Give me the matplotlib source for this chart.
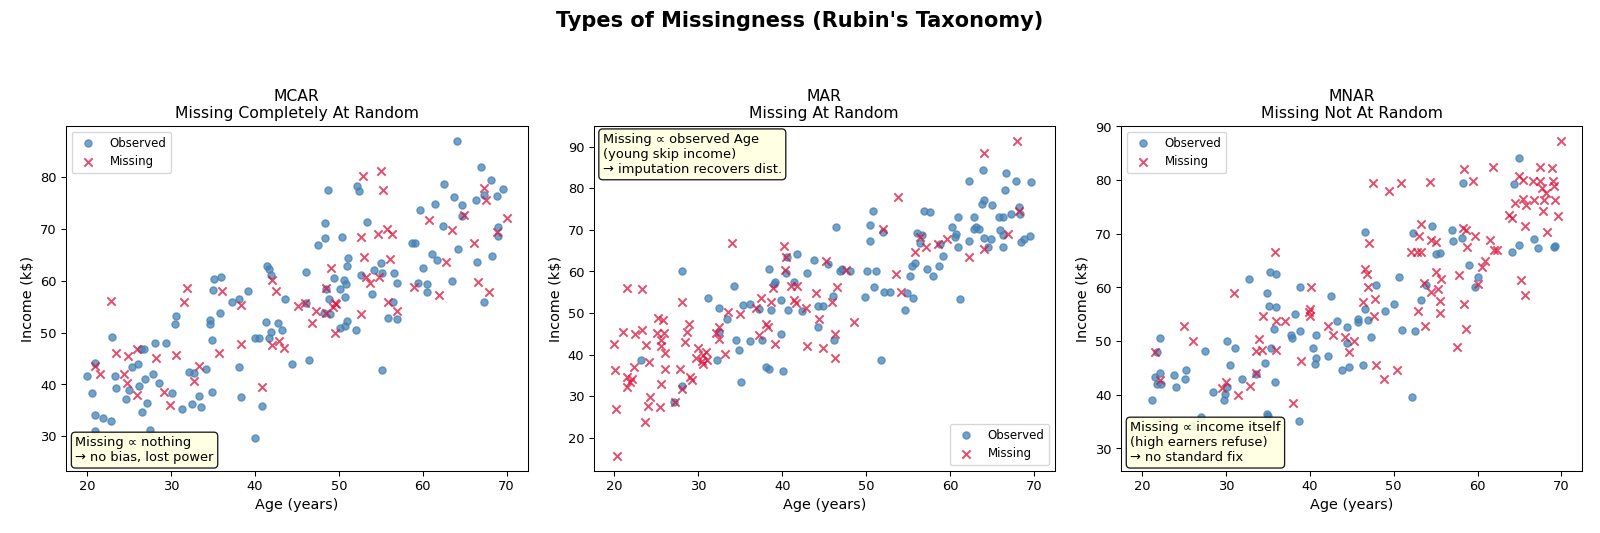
import matplotlib
matplotlib.use('Agg')
import matplotlib.pyplot as plt

# ---- MCAR ----
mcar_obs_age = [20.0, 20.6, 21.0, 21.0, 21.0, 21.9, 22.9, 23.0, 23.3, 23.5, 24.7, 25.0, 25.4, 26.1, 26.2, 26.4,
                26.8, 26.6, 26.9, 27.2, 27.5, 27.9, 28.1, 28.6, 29.4, 30.1, 30.5, 30.6, 31.3, 32.2, 32.5, 32.7,
                33.3, 33.6, 34.2, 34.6, 34.6, 34.9, 34.9, 35.0, 35.1, 35.8, 36.0, 37.3, 38.1, 38.1, 38.3, 39.2,
                40.0, 40.0, 40.5, 40.8, 41.3, 41.5, 41.7, 41.9, 41.9, 41.7, 42.8, 43.2, 43.6, 44.4,
                46.1, 46.5, 46.1, 47.5, 48.4, 48.4, 48.7, 48.5, 48.8, 48.3, 48.9, 49.4, 50.4, 50.2, 50.6, 50.9,
                50.8, 51.0, 51.1, 50.2, 50.8, 51.0, 52.0, 52.2, 52.4, 52.6, 53.4, 54.0, 54.2, 55.0, 55.1, 55.2,
                55.9, 56.5, 56.6, 57.0, 56.9, 58.7, 59.1, 59.7, 59.5, 60.0, 60.5, 60.5, 61.1, 61.5, 61.7, 62.4,
                62.5, 63.5, 63.7, 64.2, 64.1, 64.7, 64.7, 66.4, 66.5, 66.9, 67.3, 67.3, 68.2, 68.3, 68.9, 69.0,
                69.0, 69.6]
mcar_obs_inc = [41.7, 38.4, 44.2, 34.1, 31.0, 33.6, 32.9, 49.1, 41.7, 39.4, 37.2, 39.0, 43.4, 43.9, 39.8, 46.8,
                46.9, 34.7, 41.1, 36.4, 31.2, 42.1, 48.0, 40.2, 48.0, 38.4, 51.7, 53.3, 35.3, 42.4, 36.2, 42.3,
                37.7, 35.6, 42.9, 52.5, 51.7, 38.5, 48.6, 58.3, 60.3, 53.7, 60.7, 56.0, 56.5, 43.3, 37.5, 58.0,
                29.6, 48.9, 49.0, 35.9, 52.0, 62.8, 62.2, 61.2, 50.2, 49.0, 51.8, 50.6, 56.5, 44.0,
                61.8, 44.7, 55.8, 67.0, 71.2, 68.3, 77.5, 58.5, 56.5, 53.7, 53.6, 60.5, 68.5, 58.4, 60.2, 59.3,
                56.9, 62.9, 64.5, 50.9, 51.3, 52.3, 50.6, 78.3, 77.4, 61.1, 71.3, 57.4, 62.0, 63.5, 61.6, 42.8,
                52.9, 56.0, 61.6, 59.5, 52.7, 67.3, 67.3, 73.7, 59.6, 62.5, 59.3, 57.9, 65.1, 74.8, 64.0, 70.5,
                78.6, 59.9, 76.2, 66.1, 87.0, 74.7, 72.5, 75.6, 63.6, 81.9, 56.0, 76.6, 79.4, 64.8, 76.3, 70.3,
                68.7, 77.8]
mcar_mis_age = [20.9, 21.6, 22.8, 23.5, 24.4, 24.9, 24.8, 26.0, 26.0, 28.2, 29.2, 29.9, 30.6, 31.5, 31.9, 32.8,
                33.3, 35.7, 36.1, 38.4, 38.4, 40.8, 42.0, 42.5, 42.0, 42.9, 43.5,
                45.1, 46.0, 46.8, 47.3, 49.1, 48.5, 48.5, 49.5, 49.3, 49.7, 49.5, 52.9, 52.7, 53.0, 52.7, 53.7,
                53.3, 54.7, 55.0, 55.3, 54.8, 55.7, 56.3, 56.1, 55.9, 57.0, 59.0, 60.8, 62.0, 62.8, 63.5, 64.9,
                66.1, 66.6, 67.3, 67.6, 67.9, 68.9, 70.1]
mcar_mis_inc = [43.5, 42.0, 56.2, 46.1, 42.0, 45.5, 40.2, 46.9, 37.9, 45.1, 38.6, 36.1, 45.7, 55.9, 58.7, 40.6,
                43.5, 46.1, 58.0, 55.3, 47.8, 39.5, 60.1, 58.0, 47.6, 48.4, 47.1,
                55.1, 55.8, 51.8, 54.2, 62.5, 58.6, 53.7, 55.8, 54.9, 55.5, 50.0, 80.3, 68.4, 64.7, 53.6, 59.6,
                60.8, 69.1, 81.2, 77.6, 60.8, 70.0, 69.0, 64.3, 56.0, 54.2, 58.9, 71.8, 57.3, 63.7, 69.9, 72.7,
                67.4, 59.7, 77.9, 75.6, 57.9, 69.4, 72.2]

# ---- MAR ----
mar_obs_age = [23.2, 28.1, 28.1, 27.1, 31.2, 32.5, 32.5, 32.2, 33.4, 34.2, 34.5, 34.8, 35.1, 35.3, 36.1, 36.2,
               37.2, 37.6, 38.0, 38.4, 38.4, 38.7, 39.0, 39.1, 39.8, 39.8, 40.1, 40.4, 40.6, 40.7, 41.4, 41.8,
               42.4, 43.0, 43.8, 44.2, 44.3, 44.9,
               46.4, 46.9, 47.1, 48.1, 45.4, 46.0, 46.2, 49.9, 50.1, 50.4, 50.4, 50.8, 50.9, 51.2, 52.0, 52.1,
               52.8, 51.8, 54.6, 54.9, 55.6, 55.2, 55.5, 55.8, 56.1, 56.4, 56.7, 56.9, 57.6, 57.3, 58.0, 58.7,
               59.1, 58.8, 60.2, 60.7, 60.6, 61.0, 60.9, 61.2, 62.2, 62.3, 62.9, 62.9, 63.1, 63.5, 63.8, 64.1,
               63.9, 64.0, 64.5, 64.9, 65.0, 65.8, 66.3, 66.0, 66.3, 66.3, 66.6, 66.7, 67.3, 67.8, 68.2, 68.3,
               68.5, 68.8, 69.5, 69.6]
mar_obs_inc = [38.8, 60.1, 32.5, 28.6, 53.6, 51.2, 45.5, 38.6, 48.5, 56.5, 43.4, 41.0, 33.4, 52.0, 43.3, 52.1,
               50.9, 43.6, 36.9, 36.5, 60.5, 50.8, 57.1, 57.5, 53.2, 44.9, 36.0, 59.7, 63.5, 50.8, 57.5, 64.1,
               50.4, 59.7, 62.7, 51.8, 46.7, 51.8,
               70.6, 60.1, 60.7, 60.1, 61.9, 54.1, 43.6, 53.9, 60.1, 71.2, 67.3, 74.6, 56.3, 60.0, 69.4, 55.0,
               55.0, 38.8, 50.8, 54.7, 53.7, 58.9, 61.3, 62.1, 69.3, 66.9, 68.7, 74.6, 74.2, 60.5, 59.0, 61.3,
               63.7, 66.6, 70.7, 68.9, 68.2, 73.0, 65.9, 53.4, 81.7, 67.3, 73.0, 70.1, 70.6, 70.3, 76.2, 77.1,
               84.5, 68.0, 65.8, 67.9, 75.9, 73.0, 73.1, 70.0, 68.8, 65.8, 79.5, 83.8, 73.9, 81.7, 75.4, 73.9,
               67.0, 67.7, 68.5, 81.5]
mar_mis_age = [20.3, 20.2, 20.1, 20.0, 21.0, 21.5, 21.5, 21.5, 21.8, 22.1, 22.3, 22.5, 23.3, 23.3, 23.6, 23.8,
               24.1, 24.2, 24.0, 25.4, 25.2, 25.8, 25.1, 25.9, 25.5, 25.6, 26.0, 26.0, 25.6, 27.8, 27.2, 28.1,
               28.4, 28.7, 28.9, 28.0, 29.0, 29.2, 29.7, 30.0, 30.5, 30.9, 30.4, 31.0, 30.6, 32.1, 32.5, 32.4,
               33.5, 34.0, 33.2, 34.9, 36.9, 37.5, 37.2, 38.1, 38.3, 38.6, 38.9, 39.1, 40.2, 40.4, 40.3, 41.0,
               41.4, 41.6, 41.8, 42.8, 43.0, 44.0,
               44.4, 44.8, 45.2, 45.9, 46.5, 46.3, 46.3, 47.6, 48.5, 52.0, 53.8, 53.6, 54.1, 55.8, 56.4, 57.1,
               58.5, 59.6, 62.2, 64.1, 64.1, 66.9, 68.0, 68.2]
mar_mis_inc = [15.6, 26.8, 36.2, 42.6, 45.5, 56.1, 34.5, 32.2, 33.4, 34.2, 37.0, 44.9, 55.7, 46.0, 23.8, 42.4,
               38.2, 29.9, 27.6, 27.4, 48.9, 48.4, 45.1, 45.1, 43.5, 42.0, 40.4, 36.6, 33.0, 36.5, 28.6, 52.6,
               43.0, 45.5, 47.3, 31.8, 34.6, 34.0, 39.3, 41.6, 40.0, 40.6, 38.5, 38.6, 37.8, 45.1, 46.7, 43.8,
               50.3, 66.9, 40.2, 49.7, 51.3, 53.7, 44.7, 47.3, 46.7, 52.7, 55.9, 42.5, 66.1, 63.5, 60.3, 56.6,
               53.1, 52.5, 56.5, 51.1, 42.0, 54.7,
               48.5, 41.5, 62.5, 52.7, 56.3, 45.0, 39.2, 60.3, 47.9, 70.2, 78.0, 59.3, 55.1, 64.6, 68.2, 65.9,
               66.5, 67.9, 63.5, 88.4, 65.3, 69.1, 91.4, 74.6]

# ---- MNAR ----
mnar_obs_age = [21.2, 21.8, 22.2, 21.5, 21.8, 22.2, 22.3, 23.8, 24.1, 25.1, 25.3, 26.0, 27.0, 27.5, 28.5, 29.8,
                29.9, 30.1, 30.1, 30.5, 31.1, 31.9, 32.8, 33.6, 34.7, 34.9, 34.9, 35.0, 35.3, 36.0, 35.2, 36.0,
                35.7, 35.4, 35.9, 37.8, 37.9, 38.3, 38.8, 38.8, 38.7, 40.4, 40.6, 40.7, 40.8, 42.2, 42.5, 43.2,
                43.8,
                44.4, 44.5, 44.7, 45.8, 45.8, 46.3, 46.6, 46.6, 46.9, 47.3, 47.9, 49.0, 50.0, 50.7, 51.0, 52.5,
                52.2, 52.3, 53.3, 53.9, 54.6, 55.1, 55.5, 56.9, 57.1, 58.2, 58.3, 59.0, 59.7, 60.1, 64.1, 64.3,
                64.9, 65.0, 66.7, 67.2, 69.1, 69.2]
mnar_obs_inc = [39.1, 48.0, 50.5, 43.4, 42.1, 44.0, 42.0, 43.7, 41.4, 42.9, 44.6, 34.2, 35.9, 48.1, 40.5, 39.1,
                40.1, 41.4, 50.0, 45.5, 48.8, 43.0, 61.5, 43.9, 45.9, 58.9, 36.4, 36.0, 62.8, 62.6, 56.6, 56.4,
                52.2, 48.8, 42.4, 51.1, 50.5, 55.0, 60.0, 51.8, 35.1, 48.8, 45.8, 51.2, 46.9, 47.2, 58.5, 53.7,
                44.6,
                52.6, 49.6, 45.2, 54.1, 53.5, 45.5, 70.3, 55.9, 53.9, 50.8, 60.4, 55.7, 56.9, 62.0, 52.1, 51.9,
                39.6, 70.2, 57.6, 60.5, 71.5, 66.2, 66.5, 70.7, 68.7, 69.2, 79.5, 64.1, 60.1, 61.9, 66.6, 79.2,
                67.9, 84.1, 69.0, 67.3, 67.6, 67.7]
mnar_mis_age = [21.5, 22.2, 23.0, 25.0, 26.1, 29.6, 30.0, 31.4, 31.0, 32.9, 33.6, 34.0, 33.6, 34.3, 34.4, 35.9,
                36.0, 36.0, 37.1, 38.0, 39.0, 40.1, 40.0, 40.0, 39.9, 42.2, 42.8, 44.2, 44.7, 45.3,
                46.4, 46.6, 46.8, 47.0, 47.1, 47.6, 47.8, 47.7, 47.9, 48.9, 49.4, 50.4, 50.9, 52.9, 53.7, 53.3,
                53.0, 52.1, 52.8, 53.3, 54.3, 53.6, 54.4, 55.1, 55.0, 55.7, 55.3, 54.5, 55.5, 55.5, 57.8, 57.6,
                58.4, 58.3, 58.6, 58.7, 58.4, 58.6, 59.5, 59.7, 60.0, 60.5, 60.9, 61.5, 61.8, 62.0, 62.3, 63.7,
                64.1, 64.5, 65.0, 65.4, 65.4, 65.8, 65.6, 65.2, 65.6, 66.6, 66.7, 67.4, 67.4, 67.7, 67.9, 67.8,
                68.2, 68.3, 68.9, 69.0, 69.1, 69.2, 69.6, 69.9]
mnar_mis_inc = [48.0, 42.7, 34.9, 52.9, 50.1, 41.2, 42.4, 40.0, 59.0, 41.7, 44.0, 50.4, 48.2, 48.3, 54.6, 66.7,
                53.7, 48.3, 53.7, 38.4, 46.3, 60.0, 56.0, 54.6, 55.5, 52.8, 51.1, 50.8, 48.0, 50.1,
                57.2, 63.4, 62.5, 60.1, 68.2, 79.4, 57.8, 54.7, 45.5, 43.0, 78.0, 44.6, 79.4, 55.7, 52.9, 71.8,
                69.6, 66.7, 66.7, 66.7, 79.6, 60.8, 68.9, 68.4, 62.8, 61.5, 59.8, 59.2, 57.4, 55.2, 62.3, 49.0,
                82.0, 71.0, 70.8, 67.6, 57.0, 52.3, 79.9, 69.5, 60.6, 63.9, 64.9, 68.9, 82.4, 67.0, 67.0, 73.5,
                72.9, 75.8, 80.7, 80.0, 76.5, 75.4, 71.5, 61.3, 58.6, 79.9, 76.3, 82.5, 79.9, 78.5, 76.3, 74.3,
                77.6, 70.3, 82.2, 79.9, 79.0, 76.3, 73.4, 87.3]

titles = ['MCAR\nMissing Completely At Random',
          'MAR\nMissing At Random',
          'MNAR\nMissing Not At Random']
notes = ['Missing \u221d nothing\n\u2192 no bias, lost power',
         'Missing \u221d observed Age\n(young skip income)\n\u2192 imputation recovers dist.',
         'Missing \u221d income itself\n(high earners refuse)\n\u2192 no standard fix']

panels = [(mcar_obs_age, mcar_obs_inc, mcar_mis_age, mcar_mis_inc),
          (mar_obs_age, mar_obs_inc, mar_mis_age, mar_mis_inc),
          (mnar_obs_age, mnar_obs_inc, mnar_mis_age, mnar_mis_inc)]
ylims = [(23.3, 89.9), (12.0, 95.0), (25.8, 90.1)]
legend_locs = ['upper left', 'lower right', 'upper left']
note_pos = [(0.02, 0.02, 'bottom'), (0.02, 0.98, 'top'), (0.02, 0.02, 'bottom')]

fig, axes = plt.subplots(1, 3, figsize=(17, 5.664), dpi=1600 / 17)

for i, ax in enumerate(axes):
    oa, oi, ma, mi = panels[i]
    ax.scatter(oa, oi, c='steelblue', s=30, alpha=0.75, label='Observed')
    ax.scatter(ma, mi, c='crimson', marker='x', s=40, alpha=0.75, label='Missing')
    ax.set_xlim(17.5, 72.5)
    ax.set_ylim(*ylims[i])
    ax.set_xlabel('Age (years)', fontsize=11)
    ax.set_ylabel('Income (k$)', fontsize=11)
    ax.set_title(titles[i], fontsize=12)
    ax.legend(loc=legend_locs[i], fontsize=9)
    x, y, va = note_pos[i]
    ax.text(x, y, notes[i], transform=ax.transAxes, fontsize=10, va=va, ha='left',
            bbox=dict(boxstyle='round,pad=0.3', facecolor='lightyellow', edgecolor='black', alpha=0.9),
            zorder=5)

fig.suptitle("Types of Missingness (Rubin's Taxonomy)", fontsize=16, fontweight='bold')
fig.subplots_adjust(left=0.0413, right=0.989, bottom=0.1163, top=0.7636, wspace=0.143)
plt.savefig('out.png', dpi=1600 / 17)
